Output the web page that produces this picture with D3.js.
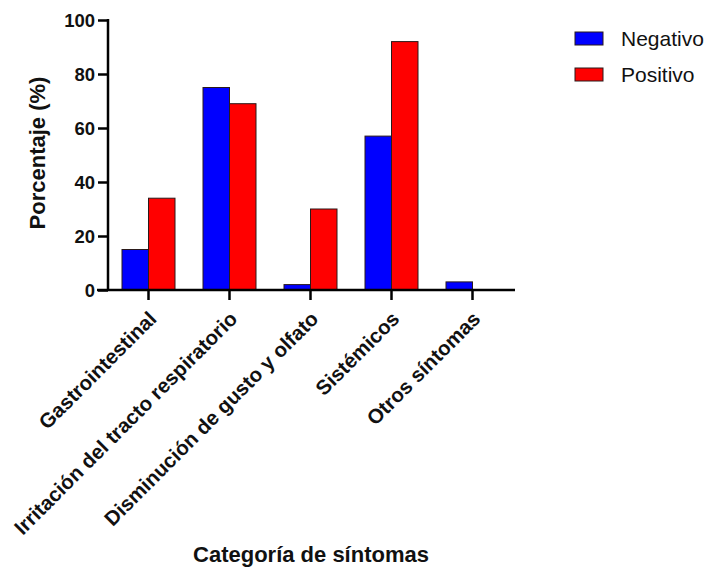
<!DOCTYPE html>
<html><head><meta charset="utf-8">
<script src="https://cdn.jsdelivr.net/npm/d3@7"></script>
<style>body{margin:0;background:#fff}svg{display:block}text{font-family:"Liberation Sans",Arial,sans-serif}</style>
</head><body>
<svg id="c" width="709" height="568"></svg>
<script>
const categories = ["Gastrointestinal","Irritación del tracto respiratorio","Disminución de gusto y olfato","Sistémicos","Otros síntomas"];
const seriesNames = ["Negativo","Positivo"];
const negativo = [15, 75, 2, 57, 3];
const positivo = [34, 69, 30, 92, 0];
const yTicks = [0, 20, 40, 60, 80, 100];
const colors = ["#0000ff","#ff0000"];

const svg = d3.select("#c");
const x0 = d3.scaleBand().domain(categories).range([108, 513]).padding(0);
const x1 = d3.scaleBand().domain(seriesNames).range([0, 53]);
const y = d3.scaleLinear().domain([0, 100]).range([290, 20]);

const data = categories.map((c,i)=>({cat:c, vals:[{s:"Negativo",v:negativo[i]},{s:"Positivo",v:positivo[i]}]}));

const g = svg.append("g").selectAll("g").data(data).join("g")
  .attr("transform", d=>`translate(${x0(d.cat)+x0.bandwidth()/2-26.5},0)`);
g.selectAll("rect").data(d=>d.vals.filter(v=>v.v>0)).join("rect")
  .attr("x", d=>x1(d.s)).attr("width", x1.bandwidth())
  .attr("y", d=>y(d.v)).attr("height", d=>y(0)-y(d.v))
  .attr("fill", (d)=>colors[seriesNames.indexOf(d.s)])
  .attr("stroke", "#2a1a1a").attr("stroke-width", 1);

// y axis
const ya = svg.append("g").attr("transform","translate(108,0)")
  .call(d3.axisLeft(y).tickValues(yTicks).tickSize(10).tickPadding(3));
ya.select(".domain").attr("stroke-width",2.5).attr("d","M0,19V291");
ya.selectAll(".tick line").attr("stroke-width",2.5);
ya.selectAll(".tick text").attr("font-size",18.5).attr("font-weight","bold").attr("fill","#111").attr("dy","0.36em");

// x axis
const xa = svg.append("g").attr("transform","translate(0,290)")
  .call(d3.axisBottom(x0).tickSize(10).tickSizeOuter(0).tickFormat(""));
xa.select(".domain").attr("stroke-width",2.5).attr("d","M97,0H515");
xa.selectAll(".tick line").attr("stroke-width",2.5);
xa.selectAll(".tick").append("text")
  .attr("transform","translate(-1,20) rotate(-45)")
  .attr("text-anchor","end").attr("font-size",20.5).attr("font-weight","bold")
  .attr("fill","#111").attr("dy","0.7em")
  .text(d=>d);

svg.append("text").attr("transform","translate(45,153) rotate(-90)")
  .attr("text-anchor","middle").attr("font-size",22).attr("font-weight","bold").attr("fill","#111")
  .text("Porcentaje (%)");
svg.append("text").attr("x",311).attr("y",562)
  .attr("text-anchor","middle").attr("font-size",22).attr("font-weight","bold").attr("fill","#111")
  .text("Categoría de síntomas");

const lg = svg.append("g").selectAll("g").data(seriesNames).join("g")
  .attr("transform",(d,i)=>`translate(575,${32+i*36})`);
lg.append("rect").attr("width",28).attr("height",13)
  .attr("fill",(d,i)=>colors[i]).attr("stroke","#2a1a1a").attr("stroke-width",1);
lg.append("text").attr("x",46).attr("y",6.5).attr("dy","0.36em")
  .attr("font-size",21).attr("fill","#111").text(d=>d);
</script>
</body></html>
